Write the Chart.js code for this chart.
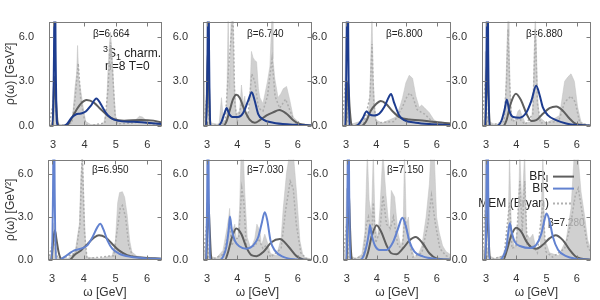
<!DOCTYPE html>
<html>
<head>
<meta charset="utf-8">
<script src="https://cdn.jsdelivr.net/npm/chart.js@4.4.1/dist/chart.umd.min.js"></script>
<style>
  body { margin: 0; background: #fff; width: 600px; height: 300px; position: relative; overflow: hidden; }
  canvas { position: absolute; }
</style>
</head>
<body>
<script>
// tick values
const omegaTicks = [3, 4, 5, 6];
const rhoTicks = [0, 3, 6];
const betas = ['6.664', '6.740', '6.800', '6.880', '6.950', '7.030', '7.150', '7.280'];

// BR_l (gray) and BR (blue) curves, [omega, rho]
const brl1 = [[2.87,0],[2.97,0],[3.0,0.8],[3.04,3.3],[3.09,1.8],[3.14,0.3],[3.2,0],[3.35,0],[3.49,0.15],[3.67,0.82],[3.88,1.48],[4.07,1.74],[4.3,1.57],[4.51,1.14],[4.73,0.71],[4.94,0.45],[5.26,0.36],[5.79,0.41],[6.2,0.36],[6.47,0.23]];
const br1 = [[2.87,0],[2.99,0],[3.03,5],[3.055,12],[3.08,5],[3.12,0.3],[3.16,0],[3.27,0],[3.43,0.1],[3.59,0.56],[3.72,0.77],[3.88,0.84],[4.04,0.97],[4.2,1.35],[4.38,1.85],[4.51,1.5],[4.67,0.92],[4.83,0.55],[5.04,0.36],[5.57,0.28],[6.47,0.13]];
const brl2 = [[2.87,0],[2.96,0],[3.0,2.0],[3.035,5.2],[3.07,2.5],[3.1,0.4],[3.13,0],[3.53,0],[3.64,0.28],[3.75,1.03],[3.86,1.78],[3.97,2.1],[4.08,1.9],[4.25,1.03],[4.41,0.43],[4.58,0.22],[4.75,0.39],[4.97,0.71],[5.19,0.92],[5.39,1.07],[5.63,0.82],[5.85,0.39],[6.07,0.13],[6.47,0.03]];
const br2 = [[2.87,0],[2.98,0],[3.02,5],[3.045,12],[3.07,5],[3.11,0],[3.36,0],[3.48,0.28],[3.59,0.92],[3.65,1.2],[3.73,0.82],[3.84,0.6],[4.03,0.6],[4.19,0.86],[4.36,1.68],[4.48,2.26],[4.58,1.68],[4.69,0.82],[4.86,0.43],[5.19,0.22],[5.74,0.1],[6.47,0.04]];
const brl3 = [[2.87,0],[2.99,0],[3.03,1.6],[3.07,3.0],[3.12,1.3],[3.17,0.2],[3.22,0],[3.5,0],[3.66,0.28],[3.82,1.03],[3.99,1.46],[4.15,1.68],[4.32,1.5],[4.54,0.99],[4.76,0.6],[5.09,0.43],[5.42,0.39],[5.86,0.28],[6.47,0.17]];
const br3 = [[2.87,0],[2.98,0],[3.02,5],[3.05,12],[3.08,5],[3.11,0],[3.33,0],[3.44,0.17],[3.55,0.5],[3.68,0.97],[3.79,0.77],[3.93,0.71],[4.1,0.82],[4.26,1.25],[4.43,2.0],[4.49,2.15],[4.59,1.57],[4.76,0.71],[4.92,0.39],[5.31,0.22],[5.75,0.13],[6.47,0.06]];
const brl4 = [[2.87,0],[2.97,0],[3.0,1.5],[3.04,4.47],[3.08,2.0],[3.12,0.3],[3.15,0],[3.57,0],[3.68,0.39],[3.81,1.46],[3.99,2.17],[4.17,1.68],[4.34,0.82],[4.5,0.34],[4.66,0.39],[4.88,0.82],[5.1,1.2],[5.32,1.31],[5.54,1.03],[5.76,0.5],[5.98,0.13],[6.47,0.02]];
const br4 = [[2.87,0],[2.99,0],[3.02,5],[3.05,12],[3.075,5],[3.11,0],[3.35,0],[3.51,0.34],[3.62,1.14],[3.69,1.78],[3.77,1.03],[3.9,0.6],[4.12,0.56],[4.34,0.92],[4.5,1.68],[4.66,2.7],[4.77,2.1],[4.88,1.25],[5.05,0.71],[5.32,0.39],[5.65,0.17],[5.98,0.06],[6.47,0.02]];
const brl5 = [[2.87,0],[2.97,0],[3.0,0.5],[3.04,1.5],[3.09,2.07],[3.14,1.4],[3.2,0.6],[3.26,0.15],[3.32,0],[3.54,0],[3.7,0.34],[3.91,0.67],[4.12,1.12],[4.33,1.57],[4.48,1.73],[4.69,1.57],[4.9,1.12],[5.11,0.67],[5.37,0.34],[5.79,0.18],[6.47,0.09]];
const br5 = [[2.87,0],[2.99,0],[3.03,5],[3.055,12],[3.08,5],[3.12,0],[3.23,0],[3.39,0.22],[3.54,0.45],[3.7,0.67],[3.91,0.79],[4.1,1.0],[4.27,1.57],[4.43,2.29],[4.52,2.52],[4.62,2.13],[4.75,1.35],[4.9,0.79],[5.11,0.45],[5.48,0.22],[6.0,0.11],[6.47,0.07]];
const brl6 = [[2.87,0],[2.97,0],[3.0,1.2],[3.05,3.93],[3.09,2.2],[3.13,0.4],[3.17,0],[3.59,0],[3.7,0.56],[3.81,1.46],[3.97,2.2],[4.14,1.8],[4.3,0.9],[4.47,0.34],[4.64,0.27],[4.86,0.56],[5.13,1.24],[5.41,1.46],[5.69,0.94],[5.96,0.27],[6.18,0.04],[6.47,0]];
const br6 = [[2.87,0],[2.98,0],[3.01,5],[3.035,12],[3.06,5],[3.1,0],[3.42,0],[3.53,0.22],[3.64,0.9],[3.72,2.13],[3.76,3.03],[3.82,2.13],[3.92,1.35],[4.08,0.94],[4.3,0.79],[4.52,1.0],[4.69,1.57],[4.8,2.47],[4.91,3.33],[4.99,2.8],[5.1,1.35],[5.24,0.67],[5.52,0.22],[5.96,0.04],[6.47,0]];
const brl7 = [[2.87,0],[2.99,0],[3.02,1.5],[3.06,4.9],[3.1,2.5],[3.14,0.5],[3.18,0],[3.6,0],[3.71,0.58],[3.82,1.6],[3.99,2.43],[4.15,1.93],[4.32,1.03],[4.48,0.47],[4.65,0.4],[4.87,0.81],[5.09,1.37],[5.29,1.6],[5.53,1.15],[5.75,0.47],[5.97,0.13],[6.47,0.02]];
const br7 = [[2.87,0],[2.99,0],[3.02,5],[3.05,12],[3.075,5],[3.11,0],[3.44,0],[3.55,0.25],[3.66,1.03],[3.73,1.82],[3.77,2.43],[3.82,1.82],[3.93,1.03],[4.1,0.7],[4.32,0.7],[4.54,1.26],[4.7,2.16],[4.85,2.94],[4.96,2.38],[5.09,1.26],[5.25,0.58],[5.53,0.25],[5.97,0.07],[6.47,0.02]];
const brl8 = [[2.87,0],[2.97,0],[3.0,1.2],[3.04,3.98],[3.08,2.0],[3.12,0.3],[3.16,0],[3.57,0],[3.68,0.6],[3.84,1.73],[4.0,2.25],[4.17,1.96],[4.34,1.28],[4.5,0.88],[4.66,0.79],[4.88,1.06],[5.1,1.51],[5.3,1.73],[5.54,1.39],[5.76,0.72],[5.98,0.22],[6.47,0.02]];
const br8 = [[2.87,0],[2.99,0],[3.02,5],[3.05,12],[3.075,5],[3.11,0],[3.46,0],[3.57,0.27],[3.68,0.94],[3.74,1.96],[3.79,2.56],[3.85,1.96],[3.95,1.28],[4.17,0.94],[4.45,0.83],[4.66,1.06],[4.83,1.84],[4.94,2.85],[5.0,3.24],[5.1,2.74],[5.21,1.62],[5.38,0.72],[5.65,0.27],[5.98,0.09],[6.47,0.02]];

// MEM (Bryan): upper edge of error band and central value
const memHi1 = [[2.87,0],[2.98,0.3],[3.02,2.5],[3.05,3.5],[3.09,2.0],[3.13,0.2],[3.3,0.05],[3.5,0.15],[3.62,0.6],[3.7,2.6],[3.75,3.5],[3.78,5.4],[3.82,3.2],[3.88,2.4],[3.97,1.1],[4.04,0.3],[4.2,0.1],[4.6,0.1],[4.7,1.0],[4.75,3.8],[4.79,5.3],[4.83,6.3],[4.88,4.8],[4.94,2.2],[5.0,0.5],[5.2,0.3],[5.6,0.35],[5.75,0.65],[5.85,0.6],[6.0,0.3],[6.47,0.25]];
const memMid1 = [[2.87,0],[3.0,1.5],[3.05,2.8],[3.1,1.0],[3.15,0],[3.6,0.2],[3.7,1.8],[3.8,4.2],[3.88,1.8],[4.0,0.4],[4.1,0],[4.65,0.2],[4.75,2.5],[4.83,5.6],[4.9,3.5],[4.97,0.8],[5.05,0.15],[5.6,0.2],[5.8,0.45],[6.0,0.15],[6.47,0.1]];
const memHi2 = [[2.87,0],[2.92,3.0],[2.96,0.5],[3.02,4.5],[3.08,0.8],[3.15,0.2],[3.4,0.1],[3.48,1.9],[3.55,0.3],[3.65,0.5],[3.7,7.5],[3.75,2.5],[3.8,7.5],[3.86,7.5],[3.9,3.0],[3.97,0.8],[4.08,1.0],[4.14,2.75],[4.2,1.5],[4.25,2.0],[4.3,0.8],[4.4,1.0],[4.47,5.0],[4.52,4.6],[4.58,4.4],[4.64,4.3],[4.7,2.5],[4.75,1.9],[4.85,1.5],[4.91,2.1],[5.0,3.0],[5.08,4.0],[5.15,7.5],[5.18,4.5],[5.24,3.2],[5.35,1.9],[5.45,2.2],[5.52,2.5],[5.63,2.65],[5.74,1.7],[5.85,0.6],[6.07,0.17],[6.47,0.05]];
const memMid2 = [[2.87,0],[3.0,2.0],[3.05,1.0],[3.1,0],[3.6,0.2],[3.72,4.0],[3.8,6.0],[3.86,7.5],[3.92,1.5],[4.0,0.3],[4.15,1.5],[4.25,1.0],[4.35,0.5],[4.48,3.5],[4.58,3.0],[4.7,1.2],[4.85,1.0],[5.0,2.0],[5.15,4.5],[5.25,2.0],[5.4,1.2],[5.6,1.8],[5.75,1.0],[5.9,0.2],[6.47,0.02]];
const memHi3 = [[2.87,0],[2.95,1.0],[2.99,6.0],[3.03,1.0],[3.08,0.5],[3.15,0.1],[3.45,0.3],[3.55,0.6],[3.68,0.5],[3.77,1.3],[3.81,3.6],[3.86,7.5],[3.9,3.2],[3.95,1.3],[3.99,0.4],[4.2,0.2],[4.65,0.6],[4.8,1.4],[4.87,1.9],[4.98,2.9],[5.09,3.4],[5.2,3.2],[5.31,2.0],[5.42,1.25],[5.5,1.4],[5.58,1.25],[5.75,0.9],[5.91,0.4],[6.19,0.13],[6.47,0.05]];
const memMid3 = [[2.87,0],[2.99,3.0],[3.05,0.3],[3.12,0],[3.6,0.2],[3.8,2.0],[3.86,5.5],[3.92,1.5],[4.0,0.2],[4.6,0.3],[4.85,1.2],[5.0,1.9],[5.1,2.2],[5.2,2.0],[5.35,1.1],[5.5,0.9],[5.6,0.8],[5.8,0.4],[6.0,0.1],[6.47,0.02]];
const memHi4 = [[2.87,0],[2.94,0.5],[2.98,5.0],[3.02,0.8],[3.1,0.3],[3.3,0.1],[3.55,0.2],[3.62,0.7],[3.65,2.1],[3.69,4.9],[3.73,7.5],[3.76,6.0],[3.8,2.3],[3.84,0.7],[3.95,0.3],[4.06,1.0],[4.12,1.1],[4.17,0.8],[4.3,0.2],[4.5,0.3],[4.56,1.7],[4.6,5.5],[4.63,7.5],[4.67,4.9],[4.71,1.9],[4.76,0.6],[5.0,0.2],[5.43,0.7],[5.6,3.0],[5.71,3.3],[5.81,3.5],[5.92,3.0],[6.03,1.25],[6.14,0.28],[6.3,0.05],[6.47,0.02]];
const memMid4 = [[2.87,0],[2.98,3.0],[3.04,0.3],[3.1,0],[3.6,0.3],[3.68,3.0],[3.73,6.5],[3.78,3.0],[3.85,0.3],[4.1,0.5],[4.3,0.1],[4.55,0.8],[4.63,6.5],[4.7,1.5],[4.8,0.2],[5.4,0.3],[5.6,1.6],[5.81,2.0],[5.95,1.6],[6.1,0.2],[6.47,0.02]];
const memHi5 = [[2.87,0],[2.98,0.5],[3.02,2.2],[3.06,2.6],[3.1,1.5],[3.15,0.2],[3.5,0.1],[3.7,0.5],[3.75,0.9],[3.86,2.5],[3.91,5.8],[3.96,7.5],[4.01,3.6],[4.06,0.9],[4.1,0.2],[4.5,0.1],[4.9,0.3],[5.0,1.35],[5.07,4.0],[5.13,4.7],[5.22,4.76],[5.29,4.38],[5.37,3.15],[5.45,1.35],[5.52,0.56],[5.68,0.27],[6.0,0.2],[6.47,0.05]];
const memMid5 = [[2.87,0],[3.0,1.0],[3.05,1.8],[3.12,0.5],[3.2,0],[3.75,0.5],[3.88,2.5],[3.95,7.5],[4.02,2.0],[4.1,0.1],[4.95,0.3],[5.05,2.0],[5.15,3.6],[5.22,3.8],[5.32,3.0],[5.42,1.0],[5.55,0.2],[6.0,0.12],[6.47,0.03]];
const memHi6 = [[2.87,0],[2.95,1.0],[2.99,4.0],[3.03,1.0],[3.1,0.3],[3.3,0.1],[3.53,0.67],[3.6,1.5],[3.66,2.2],[3.72,3.0],[3.75,3.6],[3.8,1.57],[3.84,2.0],[3.92,2.5],[4.0,1.0],[4.08,3.6],[4.13,7.5],[4.2,7.5],[4.25,4.7],[4.33,1.57],[4.45,0.8],[4.58,1.5],[4.65,2.5],[4.75,2.0],[4.8,1.0],[4.91,1.8],[5.0,1.2],[5.1,0.45],[5.3,0.3],[5.45,1.5],[5.52,3.6],[5.63,6.1],[5.74,7.5],[5.85,7.5],[5.96,4.7],[6.07,1.35],[6.18,0.22],[6.47,0.05]];
const memMid6 = [[2.87,0],[2.99,2.5],[3.05,0.3],[3.12,0],[3.55,0.4],[3.7,1.8],[3.75,2.5],[3.82,1.0],[3.92,1.5],[4.05,1.5],[4.15,5.0],[4.22,4.0],[4.3,0.8],[4.6,1.0],[4.7,1.5],[4.85,0.8],[4.95,1.0],[5.1,0.2],[5.45,0.8],[5.6,3.5],[5.75,5.5],[5.85,5.0],[5.95,2.5],[6.1,0.5],[6.3,0.05],[6.47,0.02]];
const memHi7 = [[2.87,0],[2.95,1.0],[2.99,5.0],[3.03,1.0],[3.1,0.3],[3.3,0.1],[3.5,0.4],[3.6,1.9],[3.68,7.5],[3.74,4.2],[3.82,3.0],[3.88,7.5],[3.94,2.4],[4.02,1.5],[4.1,3.5],[4.2,7.5],[4.3,4.6],[4.37,3.0],[4.43,2.0],[4.48,4.85],[4.59,4.4],[4.7,1.9],[4.8,1.0],[4.87,1.5],[4.92,7.5],[4.98,2.5],[5.05,3.0],[5.12,1.0],[5.25,0.2],[5.36,0.3],[5.5,1.0],[5.64,3.0],[5.75,5.3],[5.8,7.5],[5.91,7.5],[5.99,3.0],[6.08,1.9],[6.19,1.0],[6.3,0.6],[6.47,0.35]];
const memMid7 = [[2.87,0],[2.99,2.5],[3.05,0.3],[3.12,0],[3.55,0.3],[3.65,2.5],[3.72,3.0],[3.82,1.5],[3.88,4.0],[3.96,1.2],[4.1,2.0],[4.2,4.5],[4.32,2.5],[4.45,2.2],[4.55,3.0],[4.7,1.0],[4.85,0.8],[4.93,3.0],[5.05,1.5],[5.2,0.2],[5.5,0.5],[5.7,2.5],[5.82,4.5],[5.95,2.5],[6.1,0.8],[6.3,0.3],[6.47,0.15]];
const memHi8 = [[2.87,0],[2.95,1.0],[2.98,7.5],[3.02,1.0],[3.1,0.3],[3.3,0.1],[3.55,0.3],[3.68,1.0],[3.73,1.8],[3.78,7.5],[3.84,2.0],[3.95,0.8],[4.06,2.5],[4.12,7.5],[4.19,3.6],[4.28,7.5],[4.34,1.84],[4.45,1.5],[4.55,1.8],[4.65,0.8],[4.8,1.0],[4.88,7.5],[4.94,1.5],[5.1,0.5],[5.4,0.3],[5.65,1.4],[5.81,3.6],[5.92,7.5],[6.03,7.5],[6.14,4.76],[6.25,3.2],[6.36,1.4],[6.47,0.7]];
const memMid8 = [[2.87,0],[2.98,3.5],[3.04,0.3],[3.12,0],[3.6,0.3],[3.78,4.0],[3.86,0.8],[4.0,1.0],[4.12,5.5],[4.2,2.0],[4.28,5.5],[4.36,1.0],[4.55,1.0],[4.7,0.5],[4.88,4.0],[4.97,0.6],[5.2,0.2],[5.6,0.8],[5.8,2.5],[5.95,4.5],[6.05,5.0],[6.2,3.0],[6.35,1.0],[6.47,0.5]];

const brlAll = [brl1, brl2, brl3, brl4, brl5, brl6, brl7, brl8];
const brAll = [br1, br2, br3, br4, br5, br6, br7, br8];
const memHiAll = [memHi1, memHi2, memHi3, memHi4, memHi5, memHi6, memHi7, memHi8];
const memMidAll = [memMid1, memMid2, memMid3, memMid4, memMid5, memMid6, memMid7, memMid8];

// plot-area boxes [left, top, right, bottom]
const boxes = [[49,18,162,126],[203,18,312,126],[342,18,451,126],[482,18,591,126],
               [48,156,162,260],[203,156,312,260],[343,156,451,260],[482,156,591,260]];

const GRAY = '#5e5e5e';
const NAVY = '#1d3c8f';
const BLUE = '#6282d0';
const FONT = "'Liberation Sans', Arial, sans-serif";
Chart.defaults.font.family = FONT;

const pts = a => a.map(p => ({x: p[0], y: p[1]}));

const frame = {
  id: 'frame',
  afterDatasetsDraw(chart) {
    const {ctx, chartArea: a, scales: {x, y}} = chart;
    const l = Math.round(a.left) + 0.5, r = Math.round(a.right) - 0.5;
    const t = Math.round(a.top) + 0.5, b = Math.round(a.bottom) - 0.5;
    ctx.save();
    ctx.strokeStyle = '#7c7c7c';
    ctx.lineWidth = 1;
    ctx.beginPath();
    omegaTicks.forEach(v => {
      const px = Math.round(x.getPixelForValue(v)) + 0.5;
      ctx.moveTo(px, b); ctx.lineTo(px, b - 4);
      ctx.moveTo(px, t); ctx.lineTo(px, t + 4);
    });
    rhoTicks.forEach(v => {
      const py = Math.round(y.getPixelForValue(v)) + 0.5;
      ctx.moveTo(l, py); ctx.lineTo(l + 4, py);
      ctx.moveTo(r, py); ctx.lineTo(r - 4, py);
    });
    ctx.stroke();
    ctx.strokeRect(l, t, r - l, b - t);
    ctx.restore();
  }
};

const notes = {
  id: 'notes',
  beforeDatasetsDraw(chart, args, o) {
    const {ctx, chartArea: a} = chart;
    ctx.save();
    ctx.fillStyle = '#222';
    ctx.textBaseline = 'middle';
    ctx.font = '10px ' + FONT;
    ctx.textAlign = 'left';
    ctx.fillText('β=' + o.beta, a.left + o.bx, a.top + o.by);
    if (o.intro) {
      let x = a.left + 54;
      const y = a.top + 32;
      ctx.font = '9px ' + FONT;
      ctx.fillText('3', x, y - 4);
      x += ctx.measureText('3').width;
      ctx.font = '12px ' + FONT;
      ctx.fillText('S', x, y);
      x += ctx.measureText('S').width;
      ctx.font = '9px ' + FONT;
      ctx.fillText('1', x, y + 4);
      x += ctx.measureText('1').width;
      ctx.font = '12px ' + FONT;
      ctx.fillText(' charm.', x, y);
      ctx.fillText('n=8 T=0', a.left + 56, a.top + 45);
    }
    if (o.legend) {
      ctx.font = '12px ' + FONT;
      ctx.textAlign = 'right';
      const ex = a.left + 67;
      ctx.fillText('BR', ex - 3, a.top + 17);
      ctx.font = '9px ' + FONT;
      ctx.textAlign = 'left';
      ctx.fillText('l', ex - 3, a.top + 20);
      ctx.font = '12px ' + FONT;
      ctx.textAlign = 'right';
      ctx.fillText('BR', ex, a.top + 29);
      ctx.fillText('MEM (Bryan)', ex, a.top + 44);
    }
    ctx.restore();
  },
  afterDatasetsDraw(chart, args, o) {
    if (!o.legend) return;
    const {ctx, chartArea: a} = chart;
    const x0 = a.left + 71, x1 = a.left + 92;
    ctx.save();
    ctx.lineWidth = 2;
    ctx.strokeStyle = GRAY;
    ctx.beginPath(); ctx.moveTo(x0, a.top + 17); ctx.lineTo(x1, a.top + 17); ctx.stroke();
    ctx.strokeStyle = BLUE;
    ctx.beginPath(); ctx.moveTo(x0, a.top + 29); ctx.lineTo(x1, a.top + 29); ctx.stroke();
    ctx.strokeStyle = '#b0b0b0';
    ctx.setLineDash([2, 2]);
    ctx.beginPath(); ctx.moveTo(x0, a.top + 44); ctx.lineTo(x1, a.top + 44); ctx.stroke();
    ctx.restore();
  }
};

boxes.forEach((bx, i) => {
  const [L, T, R, B] = bx;
  const bottomRow = i >= 4;
  const leftCol = i % 4 === 0;
  const yW = leftCol ? L : 45;
  const xH = bottomRow ? 42 : 26;
  const padTop = 10, padRight = 6;
  const cv = document.createElement('canvas');
  cv.width = R - L + yW + padRight;
  cv.height = B - T + padTop + xH;
  cv.style.left = (L - yW) + 'px';
  cv.style.top = (T - padTop) + 'px';
  document.body.appendChild(cv);

  const blue = bottomRow ? BLUE : NAVY;
  const tickFont = {size: 11, family: FONT};

  new Chart(cv.getContext('2d'), {
    type: 'line',
    data: {
      datasets: [
        {label: 'MEM band', data: pts(memHiAll[i]), order: 4, fill: 'origin', tension: 0,
         backgroundColor: 'rgba(196,196,196,0.8)', borderColor: 'rgba(190,190,190,0.8)', borderWidth: 0.6, pointRadius: 0},
        {label: 'MEM (Bryan)', data: pts(memMidAll[i]), order: 3, fill: false, tension: 0,
         borderColor: '#adadad', borderDash: [2, 2], borderWidth: 1.5, pointRadius: 0},
        {label: 'BR_l', data: pts(brlAll[i]), order: 2, fill: false, cubicInterpolationMode: 'monotone',
         borderColor: GRAY, borderWidth: 2, pointRadius: 0},
        {label: 'BR', data: pts(brAll[i]), order: 1, fill: false, cubicInterpolationMode: 'monotone',
         borderColor: blue, borderWidth: 2, pointRadius: 0}
      ]
    },
    options: {
      responsive: false,
      animation: false,
      devicePixelRatio: 1,
      events: [],
      layout: {padding: {top: padTop, right: padRight, left: 0, bottom: 0}},
      plugins: {
        legend: {display: false},
        tooltip: {enabled: false},
        notes: {
          beta: betas[i],
          bx: i === 7 ? 66 : 44,
          by: i === 7 ? 64 : (bottomRow ? 11 : 13),
          intro: i === 0,
          legend: i === 7
        }
      },
      scales: {
        x: {
          type: 'linear', min: 2.87, max: 6.47,
          grid: {display: false}, border: {display: false},
          afterBuildTicks: s => { s.ticks = omegaTicks.map(v => ({value: v})); },
          afterFit: s => { s.height = xH; },
          ticks: {font: tickFont, color: '#333', padding: 4, maxRotation: 0, autoSkip: false},
          title: {display: bottomRow, text: 'ω [GeV]', color: '#333',
                  font: {size: 12, family: FONT}, padding: {top: 0, bottom: 2}}
        },
        y: {
          type: 'linear', min: 0, max: 7,
          grid: {display: false}, border: {display: false},
          afterBuildTicks: s => { s.ticks = rhoTicks.map(v => ({value: v})); },
          afterFit: s => { s.width = yW; },
          ticks: {font: tickFont, color: '#333', padding: 7, callback: v => v.toFixed(1)},
          title: {display: leftCol, text: 'ρ(ω) [GeV²]', color: '#333',
                  font: {size: 12, family: FONT}, padding: {top: 3, bottom: 0}}
        }
      }
    },
    plugins: [frame, notes]
  });
});
</script>
</body>
</html>
